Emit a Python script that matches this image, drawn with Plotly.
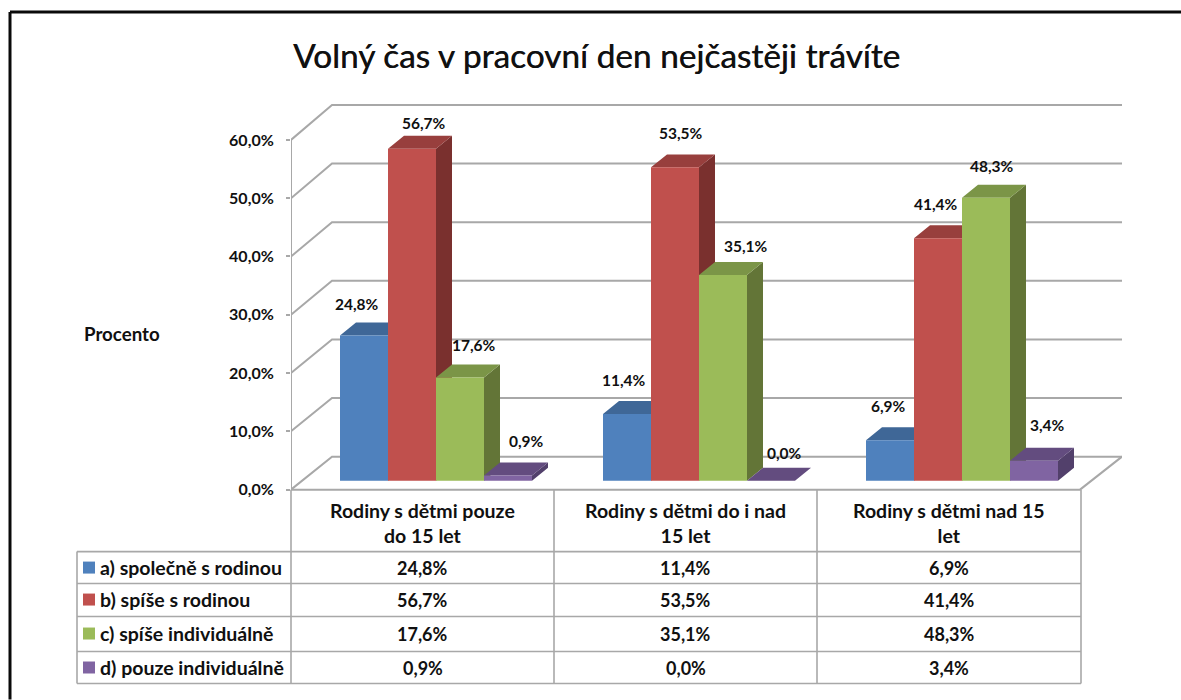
import plotly.graph_objects as go

TITLE = "Volný čas v pracovní den nejčastěji trávíte"
Y_LABEL = "Procento"
CATEGORIES = ["Rodiny s dětmi pouze<br>do 15 let", "Rodiny s dětmi do i nad<br>15 let", "Rodiny s dětmi nad 15<br>let"]
SERIES_NAMES = ["a) společně s rodinou", "b) spíše s rodinou", "c) spíše individuálně", "d) pouze individuálně"]
VALUES_A = [24.8, 11.4, 6.9]
VALUES_B = [56.7, 53.5, 41.4]
VALUES_C = [17.6, 35.1, 48.3]
VALUES_D = [0.9, 0.0, 3.4]
Y_TICKS = [0, 10, 20, 30, 40, 50, 60]

FRONT = ["#4f81bd", "#c0504d", "#9bbb59", "#8064a2"]
TOP = ["#3f6797", "#983f3d", "#7b9547", "#634c7f"]
SIDE = ["#355a86", "#7a302e", "#637537", "#52406b"]
# label nudges in px (x, y) per series / category
SHIFT_A = [(-7, 31), (-3, 34), (-2, 34)]
SHIFT_B = [(12, 26), (6, 34), (-2, 34)]
SHIFT_C = [(14, 33), (23, 29), (6, 32)]
SHIFT_D = [(18, 34), (13, 28), (13, 36)]

W, H = 1181, 700
K = 1.005   # vertical correction measured from the rendered picture
FONT = "Lato"
TXT = "#101010"
GRID = "#a8a8a8"
THICK = "0.4px 0 0 #333333"
ALL = [VALUES_A, VALUES_B, VALUES_C, VALUES_D]
SHIFTS = [SHIFT_A, SHIFT_B, SHIFT_C, SHIFT_D]

def fmt(v):
    return f"{v:.1f}".replace(".", ",") + "%"

def px(x):
    return x / W

def py(y):
    return 1 - y * K / H

UNIT = 263.0            # px per category
BAR_W = 48 / UNIT       # bar width, category units
BAR_SHIFT = 13.5 / UNIT # bars sit a little behind the front of the floor
DX_BAR = 16 / UNIT
DY_BAR = 13 / 5.86      # y2 units
DX_WALL = 41 / UNIT
XMAX = -0.5 + 831 / UNIT
GAP = 1 - 4 * BAR_W


def back(v):
    # value on the back wall, expressed on the front axis scale
    return (33 + v * 5.867) / 5.833


fig = go.Figure()

# --- walls and floor, on the front axis scale
gx, gy = [], []
for t in Y_TICKS:
    gx += [-0.5, -0.5 + DX_WALL, XMAX, None]
    gy += [t, back(t), back(t), None]
gx += [-0.5, -0.5, None, -0.5, 2.5, XMAX]
gy += [0, 60, None, 0, 0, back(0)]
fig.add_trace(go.Scatter(x=gx, y=gy, mode="lines", line=dict(color=GRID, width=2),
                         hoverinfo="skip", showlegend=False, yaxis="y", cliponaxis=False))

# --- top and side faces, back to front (left to right)
xc = [g + BAR_SHIFT for g in range(len(CATEGORIES))]
for s, vals in enumerate(ALL):
    sx, sy, tx, ty = [], [], [], []
    for g, v in enumerate(vals):
        x0 = xc[g] - 2 * BAR_W + s * BAR_W
        x1 = x0 + BAR_W
        sx += [x1, x1 + DX_BAR, x1 + DX_BAR, x1, x1, None]
        sy += [0, DY_BAR, v + DY_BAR, v, 0, None]
        tx += [x0, x1, x1 + DX_BAR, x0 + DX_BAR, x0, None]
        ty += [v, v, v + DY_BAR, v + DY_BAR, v, None]
    fig.add_trace(go.Scatter(x=sx, y=sy, mode="lines", fill="toself", fillcolor=SIDE[s],
                             line=dict(width=0, color=SIDE[s]), hoverinfo="skip",
                             showlegend=False, yaxis="y2"))
    fig.add_trace(go.Scatter(x=tx, y=ty, mode="lines", fill="toself", fillcolor=TOP[s],
                             line=dict(width=0, color=TOP[s]), hoverinfo="skip",
                             showlegend=False, yaxis="y2"))

# --- front faces
for s, vals in enumerate(ALL):
    fig.add_trace(go.Bar(x=xc, y=vals, name=SERIES_NAMES[s], marker=dict(color=FRONT[s], line=dict(width=0)),
                         yaxis="y3", showlegend=False))

ann = []
shapes = []


def text(x, y, s, size=16, bold=True, xanchor="center"):
    ann.append(dict(xref="paper", yref="paper", x=px(x), y=py(y), text=f"<b>{s}</b>" if bold else s,
                    showarrow=False, xanchor=xanchor, yanchor="middle", align="center",
                    font=dict(family=FONT, size=size, color=TXT, shadow=None if bold else THICK)))


def line(x0, y0, x1, y1, color=GRID, width=1.6):
    shapes.append(dict(type="line", xref="paper", yref="paper", x0=px(x0), y0=py(y0), x1=px(x1), y1=py(y1),
                       line=dict(color=color, width=width), layer="below"))


# data labels
for s, vals in enumerate(ALL):
    for g, v in enumerate(vals):
        ann.append(dict(xref="x", yref="y3", x=xc[g] - 1.5 * BAR_W + s * BAR_W, y=v, text=f"<b>{fmt(v)}</b>",
                        showarrow=False, xshift=SHIFTS[s][g][0], yshift=SHIFTS[s][g][1],
                        xanchor="center", yanchor="middle",
                        font=dict(family=FONT, size=15.5, color=TXT)))

# frame
line(10, 12, 1181, 12, "#0a0a0a", 3)
line(10, 12, 10, 700, "#0a0a0a", 3)

# data table
COL_X = [291, 554, 817, 1081]
ROW_Y = [552, 584, 617, 652, 684]
ROW_MID = [568, 600, 634, 668]
for x in COL_X:
    line(x, 490, x, 684)
line(77, 552, 77, 684)
for y in ROW_Y:
    line(77, y, 1081, y)
for g, c in enumerate(CATEGORIES):
    text((COL_X[g] + COL_X[g + 1]) / 2, 523, c, size=19.5)
    for s, vals in enumerate(ALL):
        text((COL_X[g] + COL_X[g + 1]) / 2, ROW_MID[s], fmt(vals[g]), size=18)
for s, name in enumerate(SERIES_NAMES):
    text(98, ROW_MID[s], name, size=19.5, xanchor="left")
    shapes.append(dict(type="rect", xref="paper", yref="paper", x0=px(83), x1=px(95),
                       y0=py(ROW_MID[s] - 6), y1=py(ROW_MID[s] + 6),
                       fillcolor=FRONT[s], line=dict(width=0)))

text(82, 334, Y_LABEL, size=18.7, xanchor="left")
text(596, 55, TITLE, size=33.4, bold=False)

top_px, bot_px = 100, 495
fig.update_layout(
    width=W, height=H, margin=dict(l=0, r=0, t=0, b=0),
    paper_bgcolor="white", plot_bgcolor="rgba(0,0,0,0)",
    barmode="group", bargap=GAP, bargroupgap=0,
    annotations=ann, shapes=shapes,
    xaxis=dict(domain=[px(291), px(1122)], range=[-0.5, XMAX], visible=False, fixedrange=True),
    yaxis=dict(domain=[py(bot_px), py(top_px)], range=[(490 - bot_px) / 5.833, (490 - top_px) / 5.833],
               tickmode="array", tickvals=Y_TICKS, ticktext=[fmt(t) for t in Y_TICKS],
               showgrid=False, zeroline=False, showline=False, ticks="outside", ticklen=4,
               tickcolor=GRID, tickwidth=1.5, ticklabelstandoff=9,
               tickfont=dict(family=FONT, size=16, color=TXT, weight="bold"), fixedrange=True),
    yaxis2=dict(overlaying="y", range=[(481 - bot_px) / 5.86, (481 - top_px) / 5.86], visible=False, fixedrange=True),
    yaxis3=dict(overlaying="y", range=[(481 - bot_px) / 5.86, (481 - top_px) / 5.86], visible=False, fixedrange=True),
)

fig.write_html("out.html", config=dict(displayModeBar=False),
               post_script="document.body.style.margin='0';document.body.style.overflow='hidden';")
